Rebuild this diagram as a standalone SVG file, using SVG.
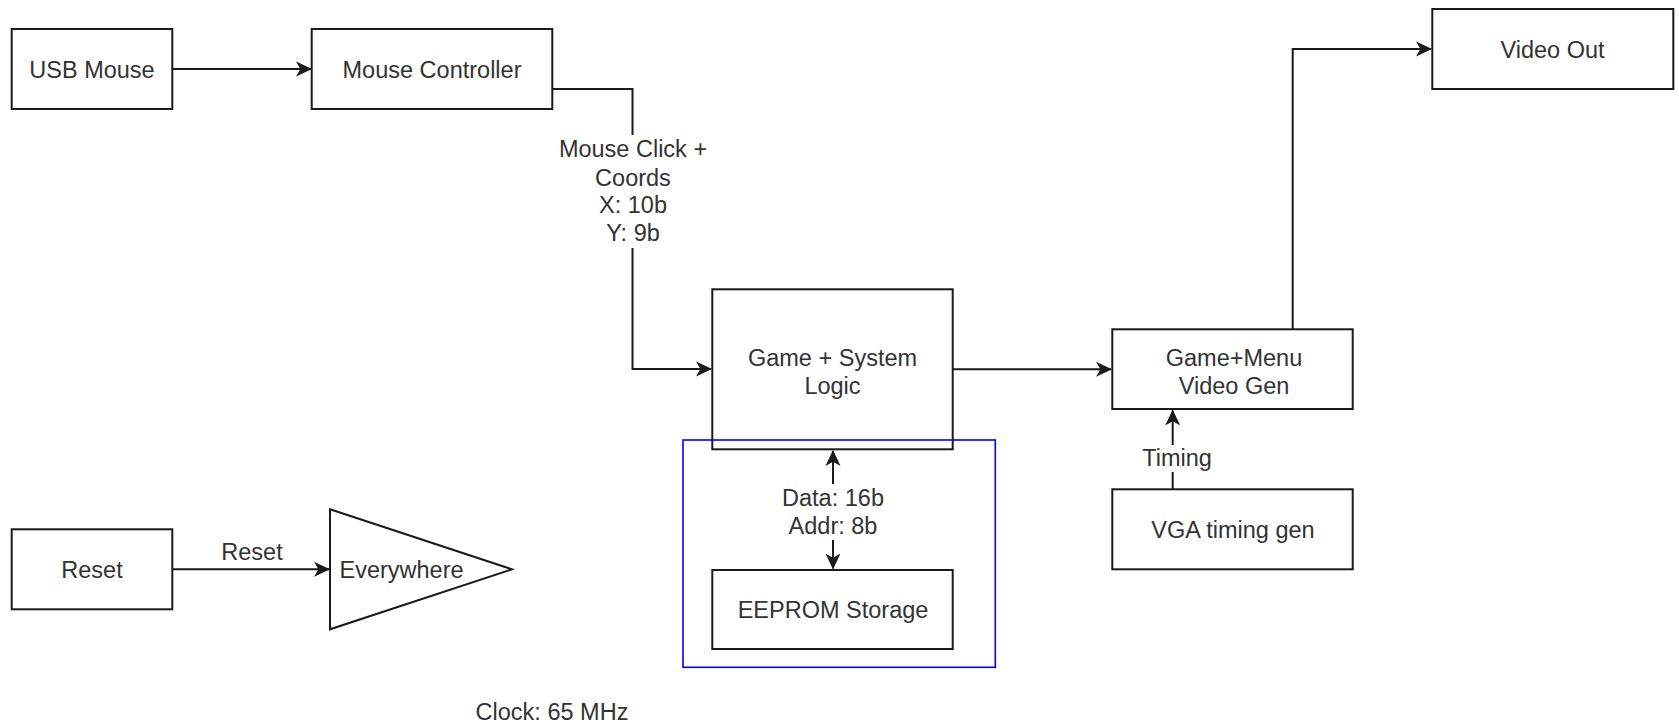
<svg xmlns="http://www.w3.org/2000/svg" width="1679" height="725" viewBox="0 0 1679 725">
<style>
.box{fill:#fff;stroke:#1a1a1a;stroke-width:2}
.ln{fill:none;stroke:#1a1a1a;stroke-width:2}
.t{font-family:"Liberation Sans",Arial,sans-serif;font-size:23.5px;fill:#333;text-anchor:middle}
.bg{fill:#fff;stroke:none}
</style>
<defs>
<marker id="arr" markerUnits="userSpaceOnUse" markerWidth="16" markerHeight="16" viewBox="0 0 15 14" refX="14" refY="7" orient="auto-start-reverse">
<path d="M0,0 L15,7 L0,14 L4,7 Z" fill="#1a1a1a"/>
</marker>
</defs>
<rect width="1679" height="725" fill="#fff"/>
<g id="connectors">
<path class="ln" d="M172.3,69 H311" marker-end="url(#arr)"/>
<path class="ln" d="M552.3,89 H632.5 V369 H711" marker-end="url(#arr)"/>
<rect class="bg" x="556" y="135" width="154" height="113"/>
<text class="t" x="633" y="157.3">Mouse Click +</text>
<text class="t" x="633" y="185.7">Coords</text>
<text class="t" x="633" y="213.3">X: 10b</text>
<text class="t" x="633" y="240.7">Y: 9b</text>
<path class="ln" d="M952.7,369.3 H1111" marker-end="url(#arr)"/>
<path class="ln" d="M1292.7,329.3 V49 H1431" marker-end="url(#arr)"/>
<path class="ln" d="M1172.7,489.3 V410.5" marker-end="url(#arr)"/>
<rect class="bg" x="1138" y="445" width="78" height="27"/>
<text class="t" x="1177" y="465.7">Timing</text>
<path class="ln" d="M833,451 V568.5" marker-start="url(#arr)" marker-end="url(#arr)"/>
<rect class="bg" x="774" y="484" width="118" height="56"/>
<text class="t" x="833" y="506">Data: 16b</text>
<text class="t" x="833" y="534">Addr: 8b</text>
<path class="ln" d="M172.3,569.3 H329" marker-end="url(#arr)"/>
<text class="t" x="252" y="560">Reset</text>
</g>
<g id="usb-mouse"><rect class="box" x="11.7" y="29" width="160.6" height="80"/><text class="t" x="92" y="78">USB Mouse</text></g>
<g id="mouse-controller"><rect class="box" x="311.7" y="29" width="240.6" height="80"/><text class="t" x="432" y="78">Mouse Controller</text></g>
<g id="video-out"><rect class="box" x="1432.3" y="9" width="241" height="80"/><text class="t" x="1552.5" y="58.3">Video Out</text></g>
<g id="game-logic"><rect class="box" x="712.3" y="289.3" width="240.4" height="160"/><text class="t" x="832.5" y="366">Game + System</text><text class="t" x="832.5" y="394">Logic</text></g>
<g id="video-gen"><rect class="box" x="1112.3" y="329.3" width="240.4" height="79.7"/><text class="t" x="1234" y="365.7">Game+Menu</text><text class="t" x="1234" y="394">Video Gen</text></g>
<g id="vga-timing"><rect class="box" x="1112.3" y="489.3" width="240.4" height="80"/><text class="t" x="1233" y="537.7">VGA timing gen</text></g>
<g id="eeprom"><rect class="box" x="712.3" y="570" width="240.4" height="79"/><text class="t" x="833" y="618.3">EEPROM Storage</text></g>
<g id="storage-group"><rect x="683" y="440" width="312.3" height="227.3" fill="none" stroke="#0000ff" stroke-width="1.6"/></g>
<g id="reset"><rect class="box" x="11.7" y="529.3" width="160.6" height="80"/><text class="t" x="92" y="578.3">Reset</text></g>
<g id="everywhere"><polygon class="box" points="330,509.3 512,569.3 330,629.3"/><text class="t" x="339.5" y="578.3" style="text-anchor:start">Everywhere</text></g>
<g id="clock"><text class="t" x="552" y="720">Clock: 65 MHz</text></g>
</svg>
